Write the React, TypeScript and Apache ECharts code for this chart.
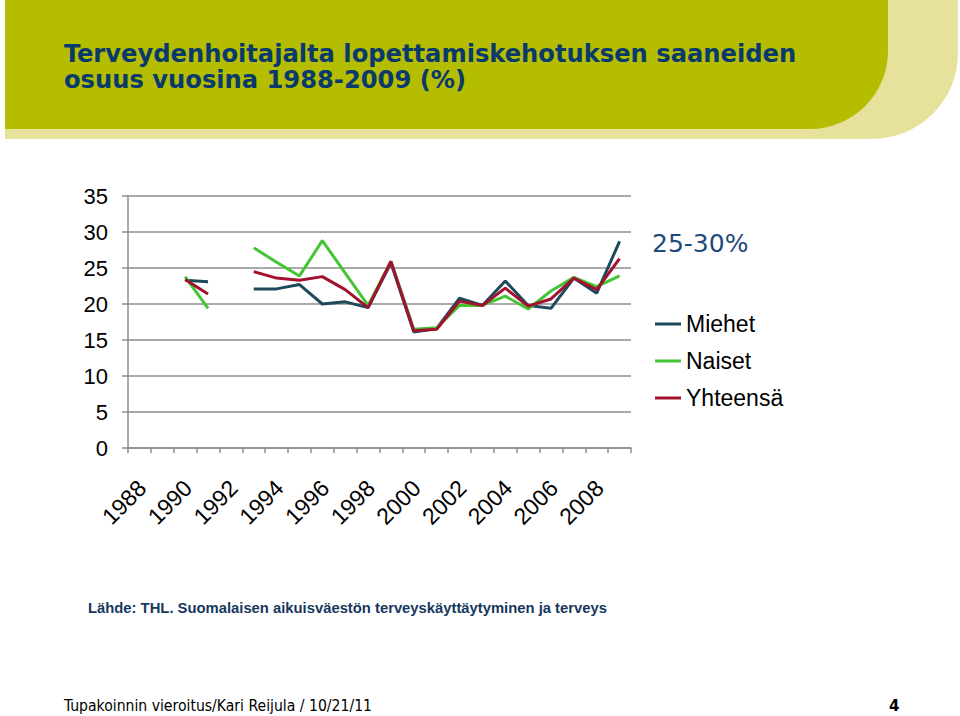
import React, { useEffect, useRef } from "react";
import * as echarts from "echarts";

const years = [
  "1988", "1989", "1990", "1991", "1992", "1993", "1994", "1995", "1996", "1997", "1998",
  "1999", "2000", "2001", "2002", "2003", "2004", "2005", "2006", "2007", "2008", "2009",
];
const miehet = [null, null, 23.3, 23.1, null, 22.1, 22.1, 22.7, 20.0, 20.3, 19.5, 25.7, 16.1, 16.6, 20.8, 19.8, 23.2, 19.8, 19.4, 23.6, 21.5, 28.7];
const naiset = [null, null, 23.8, 19.4, null, 27.8, 25.8, 23.9, 28.8, 24.3, 19.8, 25.9, 16.5, 16.7, 19.8, 19.8, 21.1, 19.3, 21.8, 23.7, 22.4, 23.9];
const yhteensa = [null, null, 23.4, 21.4, null, 24.5, 23.6, 23.3, 23.8, 22.0, 19.5, 25.9, 16.3, 16.5, 20.4, 19.8, 22.2, 19.7, 20.7, 23.6, 22.0, 26.3];
const seriesNames = ["Miehet", "Naiset", "Yhteensä"];
const yTicks = { min: 0, max: 35, interval: 5 };

const titleLines = [
  "Terveydenhoitajalta lopettamiskehotuksen saaneiden",
  "osuus vuosina 1988-2009 (%)",
];
const noteText = "25-30%";
const sourceText = "Lähde: THL. Suomalaisen aikuisväestön terveyskäyttäytyminen ja terveys";
const footerText = "Tupakoinnin vieroitus/Kari Reijula / 10/21/11";
const pageNo = "4";

const colors = ["#1e4a5c", "#45c436", "#a2122e"];
const gridGray = "#8e8e8e";
const navy = "#0a3a6c";

export default function App() {
  const ref = useRef<HTMLDivElement>(null);
  useEffect(() => {
    if (!ref.current) return;
    const chart = echarts.init(ref.current, null, { renderer: "svg" });
    const lineSeries = [miehet, naiset, yhteensa].map((d, i) => ({
      name: seriesNames[i],
      type: "line",
      data: d,
      symbol: "none",
      connectNulls: false,
      lineStyle: { width: 3, color: colors[i] },
      itemStyle: { color: colors[i] },
      z: 3 + i,
    }));
    chart.setOption({
      animation: false,
      backgroundColor: "#ffffff",
      grid: { left: 128, top: 196, width: 503, height: 252 },
      xAxis: {
        type: "category",
        data: years,
        boundaryGap: true,
        axisLine: { show: true, lineStyle: { color: gridGray, width: 1.5 } },
        axisTick: { show: true, interval: 0, length: 5, lineStyle: { color: gridGray, width: 1.5 } },
        axisLabel: {
          interval: 1,
          rotate: 45,
          margin: 39,
          padding: [0, -4, 0, 0],
          fontSize: 23,
          fontFamily: "Liberation Sans, Arial, sans-serif",
          color: "#000",
        },
        splitLine: { show: false },
      },
      yAxis: {
        type: "value",
        min: yTicks.min,
        max: yTicks.max,
        interval: yTicks.interval,
        axisLine: { show: true, lineStyle: { color: gridGray, width: 1.5 } },
        axisTick: { show: true, length: 6, lineStyle: { color: gridGray, width: 1.5 } },
        axisLabel: {
          margin: 20,
          fontSize: 22,
          fontFamily: "Liberation Sans, Arial, sans-serif",
          color: "#000",
        },
        splitLine: { show: true, lineStyle: { color: gridGray, width: 1.5 } },
      },
      legend: {
        orient: "vertical",
        left: 650,
        top: 307,
        icon: "rect",
        itemWidth: 26,
        itemHeight: 3,
        itemGap: 13,
        data: seriesNames,
        textStyle: {
          fontSize: 23,
          lineHeight: 24,
          fontFamily: "Liberation Sans, Arial, sans-serif",
          color: "#000",
        },
      },
      graphic: [
        {
          type: "rect",
          shape: { x: 5, y: 0, width: 953, height: 139, r: [0, 0, 86, 0] },
          style: { fill: "#e6e29b" },
          z: 0,
        },
        {
          type: "rect",
          shape: { x: 5, y: 0, width: 883, height: 129, r: [0, 0, 78, 0] },
          style: { fill: "#b4bd00" },
          z: 1,
        },
        {
          type: "text",
          x: 64,
          y: 40,
          scaleX: 1.076,
          style: {
            text: titleLines.join("\n"),
            fill: navy,
            font: "bold 25px 'DejaVu Sans Condensed', 'DejaVu Sans', sans-serif",
            lineHeight: 26,
            verticalAlign: "top",
          },
          z: 2,
        },
        {
          type: "text",
          x: 652,
          y: 243,
          style: {
            text: noteText,
            fill: "#1f497d",
            font: "25px 'DejaVu Sans', sans-serif",
            verticalAlign: "middle",
          },
        },
        {
          type: "text",
          x: 88,
          y: 608,
          style: {
            text: sourceText,
            fill: "#17375e",
            font: "bold 14.8px 'Liberation Sans', Arial, sans-serif",
            verticalAlign: "middle",
          },
        },
        {
          type: "text",
          x: 64,
          y: 706,
          style: {
            text: footerText,
            fill: "#000",
            font: "15.6px 'DejaVu Sans Condensed', 'DejaVu Sans', sans-serif",
            verticalAlign: "middle",
          },
        },
        {
          type: "text",
          x: 889,
          y: 706,
          style: {
            text: pageNo,
            fill: "#000",
            font: "bold 15px 'DejaVu Sans', sans-serif",
            verticalAlign: "middle",
          },
        },
      ],
      series: lineSeries,
    });
    return () => chart.dispose();
  }, []);
  return (
    <div
      ref={ref}
      style={{ position: "absolute", left: 0, top: 0, width: 960, height: 716, background: "#fff" }}
    />
  );
}
